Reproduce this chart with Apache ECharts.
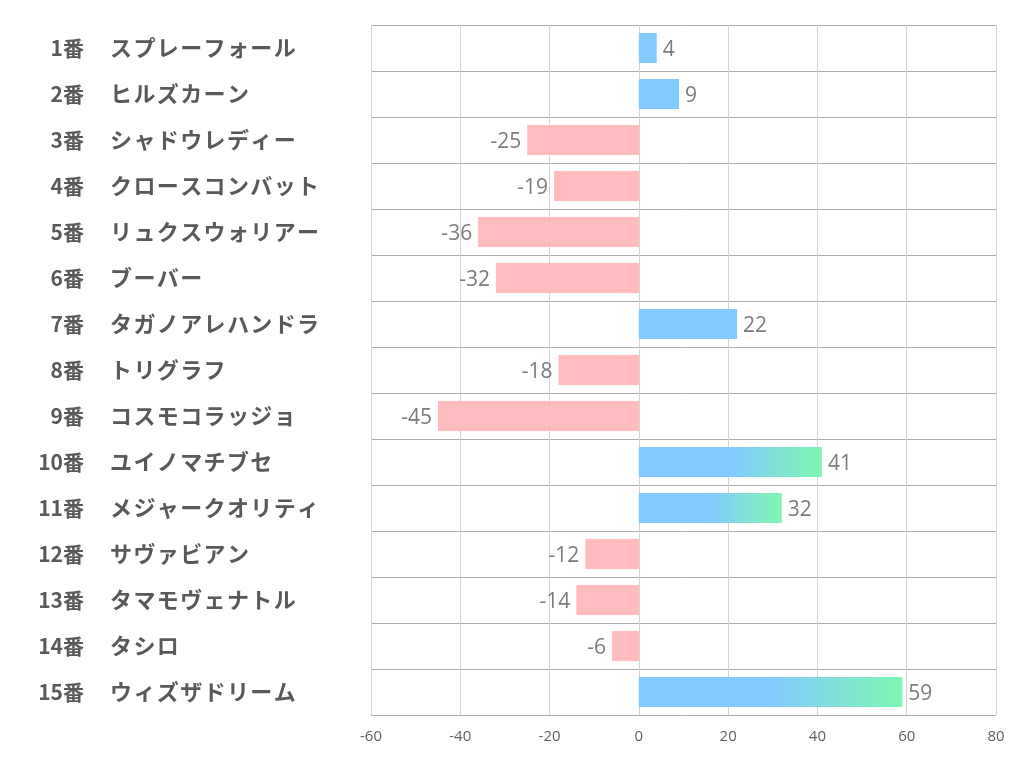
<!DOCTYPE html>
<html><head><meta charset="utf-8">
<script src="https://cdn.jsdelivr.net/npm/echarts@6/dist/echarts.min.js"></script>
<style>html,body{margin:0;padding:0;background:#fff}#c{width:1022px;height:782px}</style>
</head><body><div id="c"></div>
<script>
const numbers = ['1番','2番','3番','4番','5番','6番','7番','8番','9番','10番','11番','12番','13番','14番','15番'];
const names = ['スプレーフォール','ヒルズカーン','シャドウレディー','クロースコンバット','リュクスウォリアー','ブーバー','タガノアレハンドラ','トリグラフ','コスモコラッジョ','ユイノマチブセ','メジャークオリティ','サヴァビアン','タマモヴェナトル','タシロ','ウィズザドリーム'];
const values = [4, 9, -25, -19, -36, -32, 22, -18, -45, 41, 32, -12, -14, -6, 59];
const xTicks = [-60, -40, -20, 0, 20, 40, 60, 80];

const blue = '#7bc8ff', pink = '#ffb8ba', green = '#78f6ae';
const data = values.map(v => {
  let color;
  if (v < 0) color = pink;
  else if (v > 30) color = new echarts.graphic.LinearGradient(0, 0, 1, 0, [
    {offset: 0, color: blue}, {offset: 0.5, color: blue}, {offset: 1, color: green}]);
  else color = blue;
  return {value: v, itemStyle: {color: color}, label: {position: v < 0 ? 'left' : 'right'}};
});

const labelFont = '"Noto Sans CJK JP", sans-serif';
const chart = echarts.init(document.getElementById('c'), null, {renderer: 'canvas'});
chart.setOption({
  animation: false,
  backgroundColor: '#fff',
  grid: {left: 371, right: 26, top: 25, bottom: 67, containLabel: false},
  xAxis: {
    type: 'value', min: xTicks[0], max: xTicks[xTicks.length - 1], interval: 20,
    axisLine: {show: false}, axisTick: {show: false},
    axisLabel: {color: '#5f5f5f', fontSize: 15, margin: 14, fontFamily: '"Open Sans", "Noto Sans", sans-serif'},
    splitLine: {show: true, lineStyle: {color: '#d4d4d4', width: 1}}
  },
  yAxis: [{
    type: 'category', data: numbers, inverse: true,
    axisLine: {show: false}, axisTick: {show: false},
    splitLine: {show: true, lineStyle: {color: '#ababab', width: 1}},
    axisLabel: {align: 'right', margin: 287, fontSize: 21, fontWeight: 'bold', color: '#595959', fontFamily: labelFont}
  }, {
    type: 'category', data: names, inverse: true, position: 'left',
    axisLine: {show: false}, axisTick: {show: false}, splitLine: {show: false},
    axisLabel: {
      align: 'left', margin: 261, fontSize: 22, fontWeight: 'bold', color: '#595959', fontFamily: labelFont,
      formatter: function (v) { return Array.from(v).join('\u200A'); }
    }
  }],
  series: [{
    type: 'bar', data: data, barWidth: 30, yAxisIndex: 0,
    itemStyle: {opacity: 0.95},
    label: {show: true, color: '#757575', fontSize: 21, distance: 6, offset: [0, 2], fontFamily: '"Open Sans", "Noto Sans", sans-serif'}
  }]
});
</script></body></html>
